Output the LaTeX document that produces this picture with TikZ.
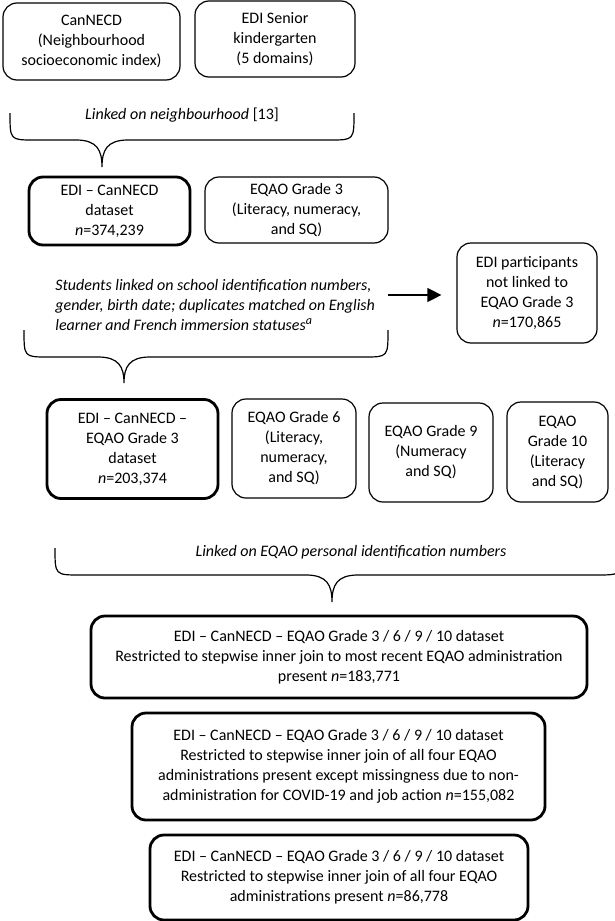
\documentclass[tikz,border=0pt]{standalone}
\usepackage{fontspec}
\setmainfont{Carlito}
\usepackage{tikz}
\usetikzlibrary{arrows.meta,positioning,calc}

\begin{document}
\begin{tikzpicture}[x=0.5pt, y=-0.5pt, >={Triangle[length=7pt,width=7pt]},
    box/.style={draw, rounded corners=7pt, line width=0.6pt, align=center, inner sep=0pt,
                font=\fontsize{8}{10}\selectfont},
    thickbox/.style={box, line width=1.4pt},
    note/.style={font=\fontsize{8}{10}\selectfont\itshape, inner sep=0pt},
    brace/.style={line width=0.6pt}]
  \path[use as bounding box, fill=white] (0,0) rectangle (615,921);

  % sources
  \node[box, minimum width=88.5pt, minimum height=38.5pt] (canecd) at (91.5,41.5)
    {CanNECD\\(Neighbourhood\\socioeconomic index)};
  \node[box, minimum width=80pt, minimum height=38pt] (edisk) at (275,39)
    {EDI Senior\\kindergarten\\(5 domains)};

  \node[note] (linkhood) at (182,115) {Linked on neighbourhood \upshape[13]};
  \draw[brace] (10,113) .. controls (10,140) .. (34,140) -- (76,140)
    .. controls (97,140) and (102,150) .. (102,167)
    .. controls (102,150) and (107,140) .. (128,140) -- (330,140)
    .. controls (354,140) .. (354,113);

  % first linkage
  \node[thickbox, minimum width=80.5pt, minimum height=34pt] (edican) at (109.5,211)
    {EDI -- CanNECD\\dataset\\\textit{n}=374,239};
  \node[box, minimum width=91.5pt, minimum height=33pt] (eqao3) at (296.5,210)
    {EQAO Grade 3\\(Literacy, numeracy,\\and SQ)};

  \node[note, anchor=west, align=left] (linkschool) at (55,305)
    {Students linked on school identification numbers,\\
     gender, birth date; duplicates matched on English\\
     learner and French immersion statuses\textsuperscript{a}};
  \node[box, minimum width=70pt, minimum height=50pt] (notlinked) at (527,293)
    {EDI participants\\not linked to\\EQAO Grade 3\\\textit{n}=170,865};
  \coordinate (arrstart) at (388,295);
  \draw[->, line width=0.6pt, shorten >=7.5pt] (arrstart) -- (arrstart -| notlinked.west);

  \draw[brace] (24,330) .. controls (24,357) .. (48,357) -- (98,357)
    .. controls (119,357) and (124,367) .. (124,383)
    .. controls (124,367) and (129,357) .. (150,357) -- (364,357)
    .. controls (388,357) .. (388,330);

  % second linkage
  \node[thickbox, minimum width=85.5pt, minimum height=49.5pt] (edican3) at (132.5,449)
    {EDI -- CanNECD --\\EQAO Grade 3\\dataset\\\textit{n}=203,374};
  \node[box, minimum width=62pt, minimum height=49.5pt] (eqao6) at (294,448.5)
    {EQAO Grade 6\\(Literacy,\\numeracy,\\and SQ)};
  \node[box, minimum width=62pt, minimum height=49.5pt] (eqao9) at (431,452.5)
    {EQAO Grade 9\\(Numeracy\\and SQ)};
  \node[box, minimum width=50.5pt, minimum height=50pt] (eqao10) at (557.5,452)
    {EQAO\\Grade 10\\(Literacy\\and SQ)};

  \node[note] (linkpin) at (351,552) {Linked on EQAO personal identification numbers};
  \begin{scope}
    \clip (0,0) rectangle (615,921);
    \draw[brace] (55,548) .. controls (55,575) .. (80,575) -- (306,575)
      .. controls (327,575) and (332,585) .. (332,602)
      .. controls (332,585) and (337,575) .. (358,575) -- (596,575)
      .. controls (622,575) .. (622,548);
  \end{scope}

  % final datasets
  \node[thickbox, minimum width=248pt, minimum height=41pt] (recent) at (339,657)
    {EDI -- CanNECD -- EQAO Grade 3 / 6 / 9 / 10 dataset\\
     Restricted to stepwise inner join to most recent EQAO administration\\
     present \textit{n}=183,771};
  \node[thickbox, minimum width=206.5pt, minimum height=53.5pt] (except) at (338.5,766.5)
    {EDI -- CanNECD -- EQAO Grade 3 / 6 / 9 / 10 dataset\\
     Restricted to stepwise inner join of all four EQAO\\
     administrations present except missingness due to non-\\
     administration for COVID-19 and job action \textit{n}=155,082};
  \node[thickbox, minimum width=189pt, minimum height=42.5pt] (allfour) at (339,877.5)
    {EDI -- CanNECD -- EQAO Grade 3 / 6 / 9 / 10 dataset\\
     Restricted to stepwise inner join of all four EQAO\\
     administrations present \textit{n}=86,778};
\end{tikzpicture}
\end{document}
